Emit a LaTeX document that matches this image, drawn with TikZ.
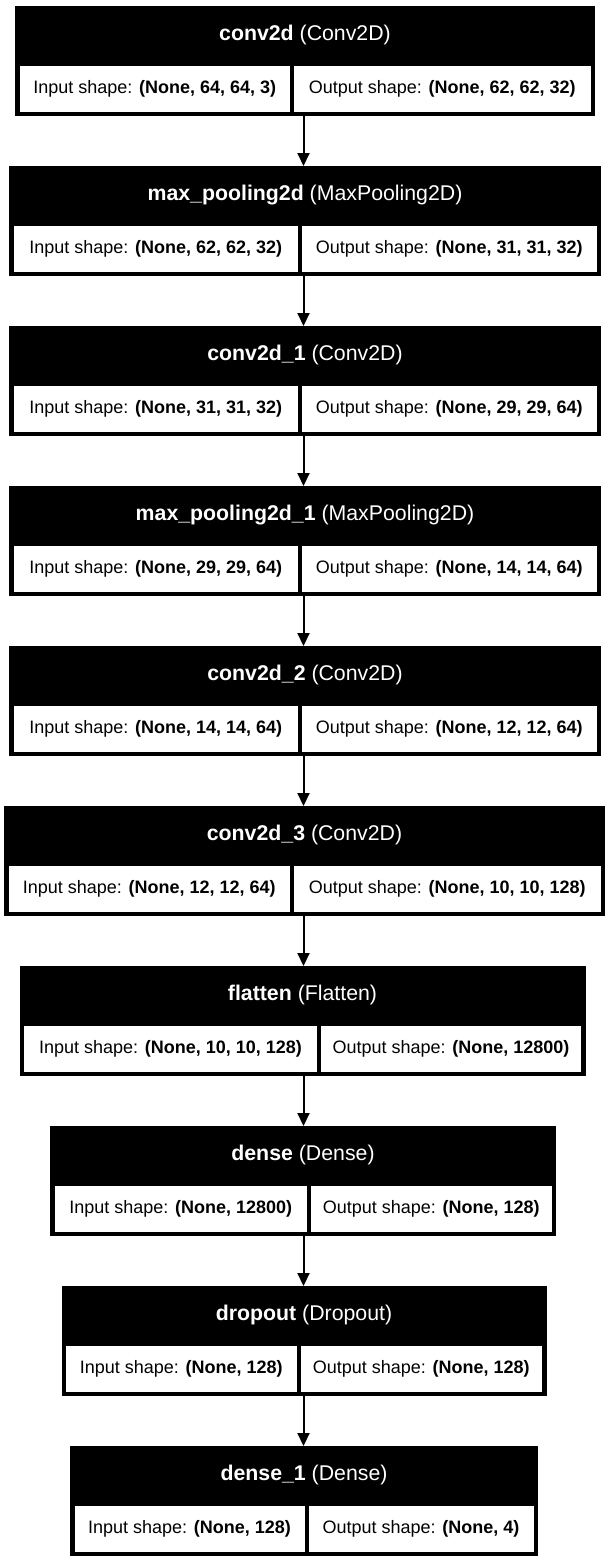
\documentclass[tikz,border=0pt]{standalone}
\usepackage{fontspec}
\setmainfont{Liberation Sans}
\usetikzlibrary{arrows.meta}
\tikzset{
  blockbox/.style={rectangle, fill=black, inner sep=0pt, outer sep=0pt, minimum height=110pt},
  cellbox/.style={rectangle, fill=white, inner sep=0pt, outer sep=0pt, minimum height=46pt, font=\fontsize{18}{21}\selectfont},
  hdrtext/.style={text=white, inner sep=0pt, font=\fontsize{21.3}{25}\selectfont},
  arr/.style={line width=2pt, -{Triangle[width=12pt,length=13pt]}}
}
% name, top, left, divider, right, layer name, class, input, output
\newcommand\mkblock[9]{%
  \node[blockbox, minimum width={(#5-#3)*1pt}, anchor=north west] (#1) at (#3,#2) {};
  \node[hdrtext] (#1h) at ({(#3+#5)/2},#2+29) {\textbf{#6} (#7)};
  \node[cellbox, minimum width={(#4-#3-6.5)*1pt}, anchor=north west] (#1i) at (#3+4.5,#2+60) {Input shape: \textbf{#8}};
  \node[cellbox, minimum width={(#5-#4-6.5)*1pt}, anchor=north west] (#1o) at (#4+2,#2+60) {Output shape: \textbf{#9}};
}
\begin{document}
\begin{tikzpicture}[x=1pt,y=-1pt]
\useasboundingbox (0,0) rectangle (608,1563);
\fill[white] (0,0) rectangle (608,1563);
\coordinate (ax) at (303.5,0);
\mkblock{b1}{6}{15}{292}{595}{conv2d}{Conv2D}{(None, 64, 64, 3)}{(None, 62, 62, 32)}
\mkblock{b2}{166}{9}{300}{601}{max\_pooling2d}{MaxPooling2D}{(None, 62, 62, 32)}{(None, 31, 31, 32)}
\mkblock{b3}{326}{9}{300}{601}{conv2d\_1}{Conv2D}{(None, 31, 31, 32)}{(None, 29, 29, 64)}
\mkblock{b4}{486}{9}{300}{601}{max\_pooling2d\_1}{MaxPooling2D}{(None, 29, 29, 64)}{(None, 14, 14, 64)}
\mkblock{b5}{646}{9}{300}{601}{conv2d\_2}{Conv2D}{(None, 14, 14, 64)}{(None, 12, 12, 64)}
\mkblock{b6}{806}{4}{292}{605}{conv2d\_3}{Conv2D}{(None, 12, 12, 64)}{(None, 10, 10, 128)}
\mkblock{b7}{966}{19.5}{319}{585.5}{flatten}{Flatten}{(None, 10, 10, 128)}{(None, 12800)}
\mkblock{b8}{1126}{50}{309}{556}{dense}{Dense}{(None, 12800)}{(None, 128)}
\mkblock{b9}{1286}{61.5}{298.5}{546.5}{dropout}{Dropout}{(None, 128)}{(None, 128)}
\mkblock{b10}{1446}{70}{306.5}{538}{dense\_1}{Dense}{(None, 128)}{(None, 4)}
\foreach \a/\b in {b1/b2,b2/b3,b3/b4,b4/b5,b5/b6,b6/b7,b7/b8,b8/b9,b9/b10}
  \draw[arr] (\a.south -| ax) -- (\b.north -| ax);
\end{tikzpicture}
\end{document}
